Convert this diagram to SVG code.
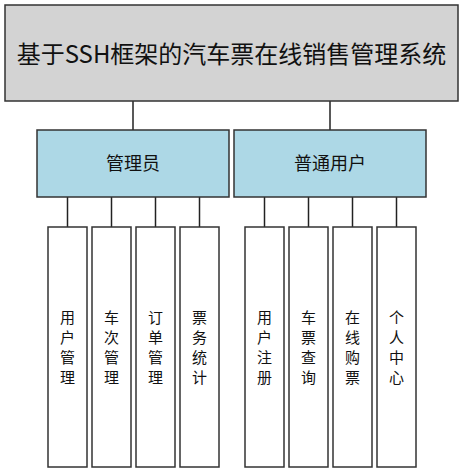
<svg xmlns="http://www.w3.org/2000/svg" width="463" height="473" viewBox="0 0 463 473">
<style>
.box{stroke:#333;stroke-width:1.5}
.top{fill:#d3d3d3}
.mid{fill:#add8e6}
.leaf{fill:#fff}
.conn line{stroke:#222;stroke-width:1.5}
text{font-family:"Noto Sans CJK SC","Noto Sans",sans-serif;fill:#111;text-anchor:middle;dominant-baseline:central}
.t1{font-size:24px}
.t2{font-size:18px}
.t3{font-size:15px}
</style>
<rect width="463" height="473" fill="#fff"/>
<g class="conn">
<line x1="133" y1="101" x2="133" y2="130"/>
<line x1="330" y1="101" x2="330" y2="130"/>
<line x1="67.5" y1="197" x2="67.5" y2="227"/>
<line x1="111.5" y1="197" x2="111.5" y2="227"/>
<line x1="155.5" y1="197" x2="155.5" y2="227"/>
<line x1="199.5" y1="197" x2="199.5" y2="227"/>
<line x1="264.5" y1="197" x2="264.5" y2="227"/>
<line x1="308.5" y1="197" x2="308.5" y2="227"/>
<line x1="352.5" y1="197" x2="352.5" y2="227"/>
<line x1="396.5" y1="197" x2="396.5" y2="227"/>
</g>
<g id="root"><rect class="box top" x="5" y="5" width="453" height="96"/><text class="t1" x="231.5" y="52">基于SSH框架的汽车票在线销售管理系统</text></g>
<g id="admin"><rect class="box mid" x="37" y="130" width="192" height="67"/><text class="t2" x="133" y="162">管理员</text></g>
<g id="user"><rect class="box mid" x="234" y="130" width="192" height="67"/><text class="t2" x="330" y="162">普通用户</text></g>
<g id="n1"><rect class="box leaf" x="48" y="227" width="39" height="240"/><text class="t3" x="67.5"><tspan x="67.5" y="316">用</tspan><tspan x="67.5" y="336">户</tspan><tspan x="67.5" y="356">管</tspan><tspan x="67.5" y="376">理</tspan></text></g>
<g id="n2"><rect class="box leaf" x="92" y="227" width="39" height="240"/><text class="t3" x="111.5"><tspan x="111.5" y="316">车</tspan><tspan x="111.5" y="336">次</tspan><tspan x="111.5" y="356">管</tspan><tspan x="111.5" y="376">理</tspan></text></g>
<g id="n3"><rect class="box leaf" x="136" y="227" width="39" height="240"/><text class="t3" x="155.5"><tspan x="155.5" y="316">订</tspan><tspan x="155.5" y="336">单</tspan><tspan x="155.5" y="356">管</tspan><tspan x="155.5" y="376">理</tspan></text></g>
<g id="n4"><rect class="box leaf" x="180" y="227" width="39" height="240"/><text class="t3" x="199.5"><tspan x="199.5" y="316">票</tspan><tspan x="199.5" y="336">务</tspan><tspan x="199.5" y="356">统</tspan><tspan x="199.5" y="376">计</tspan></text></g>
<g id="n5"><rect class="box leaf" x="245" y="227" width="39" height="240"/><text class="t3" x="264.5"><tspan x="264.5" y="316">用</tspan><tspan x="264.5" y="336">户</tspan><tspan x="264.5" y="356">注</tspan><tspan x="264.5" y="376">册</tspan></text></g>
<g id="n6"><rect class="box leaf" x="289" y="227" width="39" height="240"/><text class="t3" x="308.5"><tspan x="308.5" y="316">车</tspan><tspan x="308.5" y="336">票</tspan><tspan x="308.5" y="356">查</tspan><tspan x="308.5" y="376">询</tspan></text></g>
<g id="n7"><rect class="box leaf" x="333" y="227" width="39" height="240"/><text class="t3" x="352.5"><tspan x="352.5" y="316">在</tspan><tspan x="352.5" y="336">线</tspan><tspan x="352.5" y="356">购</tspan><tspan x="352.5" y="376">票</tspan></text></g>
<g id="n8"><rect class="box leaf" x="377" y="227" width="39" height="240"/><text class="t3" x="396.5"><tspan x="396.5" y="316">个</tspan><tspan x="396.5" y="336">人</tspan><tspan x="396.5" y="356">中</tspan><tspan x="396.5" y="376">心</tspan></text></g>
</svg>
